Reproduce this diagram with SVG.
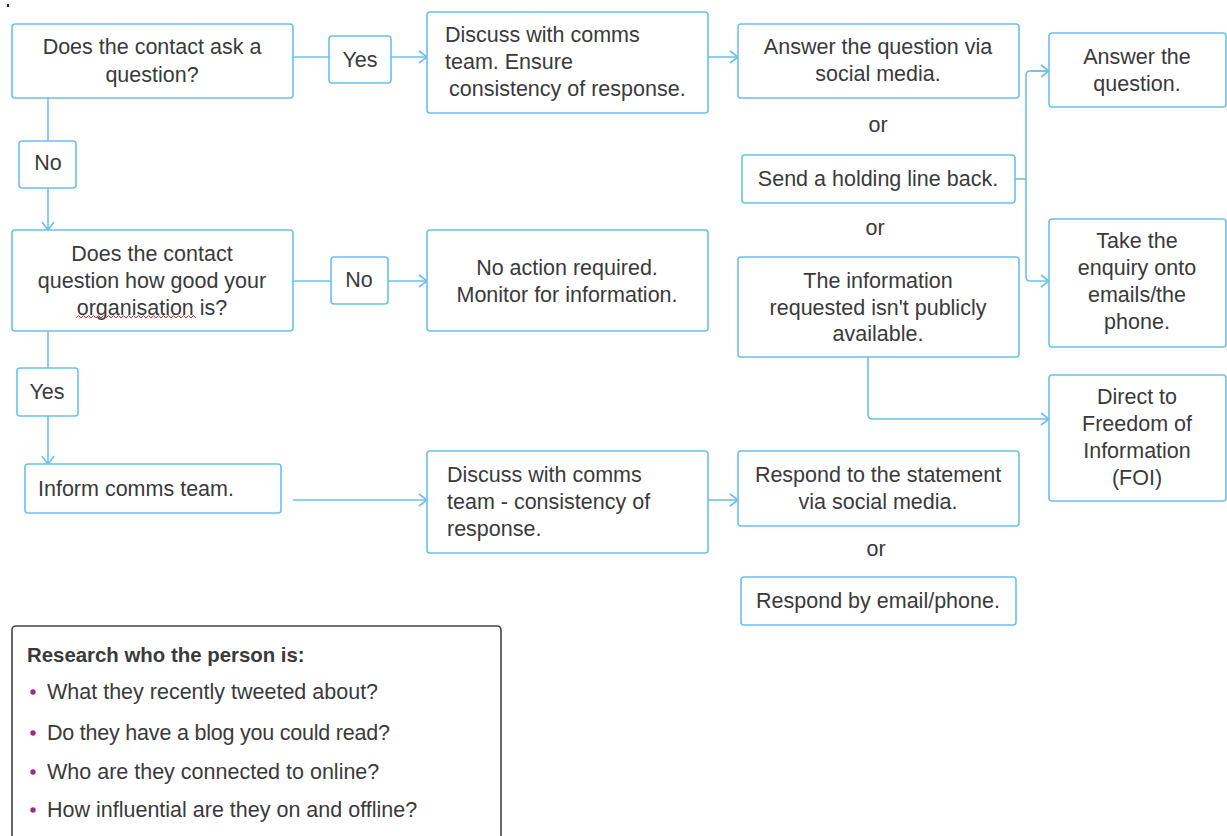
<svg xmlns="http://www.w3.org/2000/svg" width="1227" height="836" viewBox="0 0 1227 836">
<style>
.box{fill:#fff;stroke:#6cc0ea;stroke-width:1.6}
.t{font-family:"Liberation Sans",Arial,sans-serif;font-size:21.5px;fill:#3a3a3a}
.c{text-anchor:middle}
.ln{fill:none;stroke:#6cc0ea;stroke-width:1.6}
.h{font-weight:bold;font-size:20.4px}
</style>
<defs>
<marker id="ah" markerWidth="10" markerHeight="14" refX="9" refY="7" orient="auto" markerUnits="userSpaceOnUse">
<path d="M1,1 L9,7 L1,13" fill="none" stroke="#6cc0ea" stroke-width="1.6"/>
</marker>
</defs>
<rect width="1227" height="836" fill="#fff"/>
<rect x="7" y="4" width="2" height="3" fill="#333"/>
<g id="connectors">
<path class="ln" d="M293,57 H427" marker-end="url(#ah)"/>
<path class="ln" d="M708,57 H738" marker-end="url(#ah)"/>
<path class="ln" d="M1015,179 H1026"/>
<path class="ln" d="M1049,71 H1030 Q1026,71 1026,75 V277 Q1026,281 1030,281 H1049" marker-end="url(#ah)"/>
<path class="ln" d="M1030,71 H1049" marker-end="url(#ah)"/>
<path class="ln" d="M868,357 V414 Q868,419 873,419 H1049" marker-end="url(#ah)"/>
<path class="ln" d="M48,98 V230" marker-end="url(#ah)"/>
<path class="ln" d="M293,281 H427" marker-end="url(#ah)"/>
<path class="ln" d="M48,331 V464" marker-end="url(#ah)"/>
<path class="ln" d="M293,500 H427" marker-end="url(#ah)"/>
<path class="ln" d="M708,500 H738" marker-end="url(#ah)"/>
</g>
<g id="q1"><rect class="box" x="12" y="24" width="281" height="74" rx="3"/>
<text class="t c" x="152" y="54">Does the contact ask a</text><text class="t c" x="152" y="82">question?</text></g>
<g id="yes1"><rect class="box" x="329" y="36" width="62" height="47" rx="3"/><text class="t c" x="360" y="67">Yes</text></g>
<g id="discuss1"><rect class="box" x="427" y="12" width="281" height="101" rx="3"/>
<text class="t" x="445" y="42">Discuss with comms</text><text class="t" x="445" y="69">team. Ensure</text><text class="t" x="449" y="96">consistency of response.</text></g>
<g id="answer1"><rect class="box" x="738" y="24" width="281" height="74" rx="3"/>
<text class="t c" x="878" y="54">Answer the question via</text><text class="t c" x="878" y="81">social media.</text></g>
<text class="t c" x="878" y="132">or</text>
<g id="holding"><rect class="box" x="742" y="155" width="273" height="48" rx="3"/><text class="t c" x="878" y="186">Send a holding line back.</text></g>
<text class="t c" x="875" y="235">or</text>
<g id="info"><rect class="box" x="738" y="257" width="281" height="100" rx="3"/>
<text class="t c" x="878" y="288">The information</text><text class="t c" x="878" y="315">requested isn't publicly</text><text class="t c" x="878" y="341">available.</text></g>
<g id="answer2"><rect class="box" x="1049" y="33" width="177" height="74" rx="3"/>
<text class="t c" x="1137" y="64">Answer the</text><text class="t c" x="1137" y="91">question.</text></g>
<g id="enquiry"><rect class="box" x="1049" y="219" width="177" height="128" rx="3"/>
<text class="t c" x="1137" y="248">Take the</text><text class="t c" x="1137" y="275">enquiry onto</text><text class="t c" x="1137" y="302">emails/the</text><text class="t c" x="1137" y="329">phone.</text></g>
<g id="foi"><rect class="box" x="1049" y="375" width="177" height="126" rx="3"/>
<text class="t c" x="1137" y="404">Direct to</text><text class="t c" x="1137" y="431">Freedom of</text><text class="t c" x="1137" y="458">Information</text><text class="t c" x="1137" y="485">(FOI)</text></g>
<g id="no1"><rect class="box" x="19" y="141" width="57" height="47" rx="3"/><text class="t c" x="48" y="170">No</text></g>
<g id="q2"><rect class="box" x="12" y="230" width="281" height="101" rx="3"/>
<text class="t c" x="152" y="261">Does the contact</text><text class="t c" x="152" y="288">question how good your</text><text class="t c" x="152" y="315">organisation is?</text>
<path d="M76,318 l2.5,-2.5 l2.5,2.5 l2.5,-2.5 l2.5,2.5 l2.5,-2.5 l2.5,2.5 l2.5,-2.5 l2.5,2.5 l2.5,-2.5 l2.5,2.5 l2.5,-2.5 l2.5,2.5 l2.5,-2.5 l2.5,2.5 l2.5,-2.5 l2.5,2.5 l2.5,-2.5 l2.5,2.5 l2.5,-2.5 l2.5,2.5 l2.5,-2.5 l2.5,2.5 l2.5,-2.5 l2.5,2.5 l2.5,-2.5 l2.5,2.5 l2.5,-2.5 l2.5,2.5 l2.5,-2.5 l2.5,2.5 l2.5,-2.5 l2.5,2.5 l2.5,-2.5 l2.5,2.5 l2.5,-2.5 l2.5,2.5 l2.5,-2.5 l2.5,2.5 l2.5,-2.5 l2.5,2.5 l2.5,-2.5 l2.5,2.5 l2.5,-2.5 l2.5,2.5 l2.5,-2.5 l2.5,2.5 l2.5,-2.5 l2.5,2.5" fill="none" stroke="#e03030" stroke-width="1"/></g>
<g id="no2"><rect class="box" x="331" y="257" width="57" height="47" rx="3"/><text class="t c" x="359" y="287">No</text></g>
<g id="noaction"><rect class="box" x="427" y="230" width="281" height="101" rx="3"/>
<text class="t c" x="567" y="275">No action required.</text><text class="t c" x="567" y="302">Monitor for information.</text></g>
<g id="yes2"><rect class="box" x="17" y="368" width="61" height="48" rx="3"/><text class="t c" x="47" y="399">Yes</text></g>
<g id="inform"><rect class="box" x="25" y="464" width="256" height="49" rx="3"/><text class="t" x="38" y="496">Inform comms team.</text></g>
<g id="discuss2"><rect class="box" x="427" y="451" width="281" height="102" rx="3"/>
<text class="t" x="447" y="482">Discuss with comms</text><text class="t" x="447" y="509">team - consistency of</text><text class="t" x="447" y="536">response.</text></g>
<g id="respond1"><rect class="box" x="738" y="451" width="281" height="75" rx="3"/>
<text class="t c" x="878" y="482">Respond to the statement</text><text class="t c" x="878" y="509">via social media.</text></g>
<text class="t c" x="876" y="556">or</text>
<g id="respond2"><rect class="box" x="741" y="577" width="275" height="48" rx="3"/><text class="t c" x="878" y="608">Respond by email/phone.</text></g>
<g id="research"><rect x="12" y="626" width="489" height="230" rx="4" fill="#fff" stroke="#444" stroke-width="1.6"/>
<text class="t h" x="27" y="662">Research who the person is:</text>
<circle cx="33" cy="692" r="2.7" fill="#a0288c"/><text class="t" x="47" y="699">What they recently tweeted about?</text>
<circle cx="33" cy="733" r="2.7" fill="#a0288c"/><text class="t" x="47" y="740" textLength="343">Do they have a blog you could read?</text>
<circle cx="33" cy="772" r="2.7" fill="#a0288c"/><text class="t" x="47" y="779">Who are they connected to online?</text>
<circle cx="33" cy="810" r="2.7" fill="#a0288c"/><text class="t" x="47" y="817">How influential are they on and offline?</text></g>
</svg>
